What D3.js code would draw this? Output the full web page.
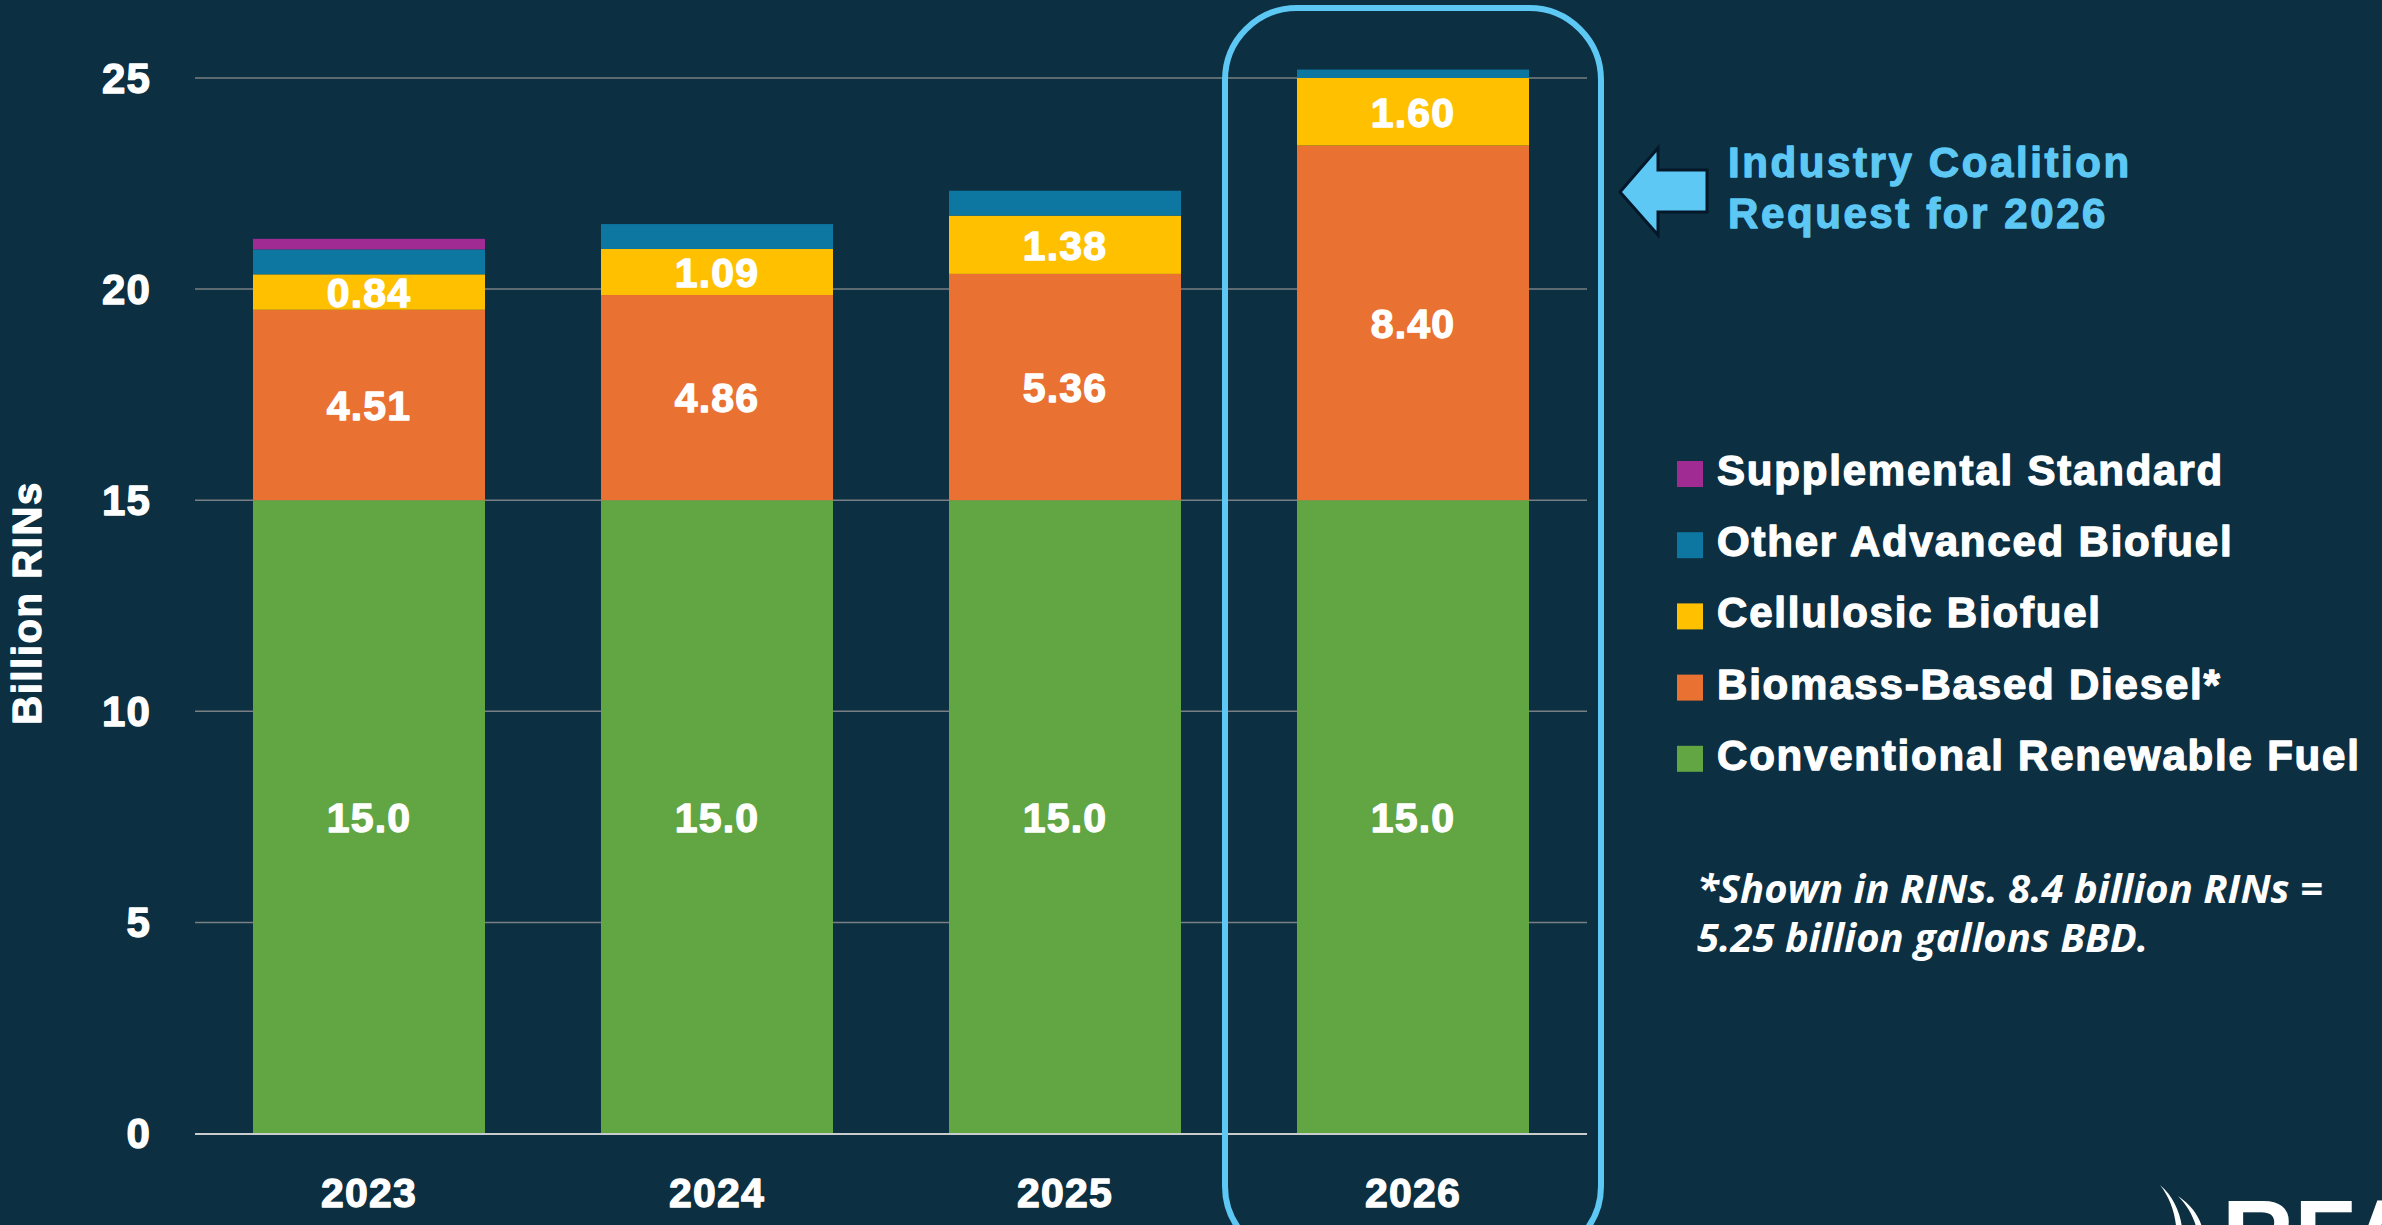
<!DOCTYPE html>
<html>
<head>
<meta charset="utf-8">
<script src="https://cdn.jsdelivr.net/npm/d3@7"></script>
<style>
  html, body { margin: 0; padding: 0; background: #0c2f42; overflow: hidden; }
  svg { display: block; }
  text { font-family: "Liberation Sans", Arial, sans-serif; font-weight: bold; fill: #fff; }
  /* The source text is a bit heavier than Liberation bold, thicken it. */
  text.heavy { stroke: #fff; stroke-width: 1.3px; paint-order: stroke; stroke-linejoin: round; }
</style>
</head>
<body>
<div id="chart"></div>
<script>
"use strict";

// Years on the x axis.
const years = ["2023", "2024", "2025", "2026"];

// Series, bottom to top of each stack (billion RINs).
const seriesNames = [
  "Conventional Renewable Fuel",
  "Biomass-Based Diesel*",
  "Cellulosic Biofuel",
  "Other Advanced Biofuel",
  "Supplemental Standard"
];
const conventional = [15.0, 15.0, 15.0, 15.0];
const biomassDiesel = [4.51, 4.86, 5.36, 8.40];
const cellulosic = [0.84, 1.09, 1.38, 1.60];
const otherAdvanced = [0.59, 0.59, 0.59, 0.20];
const supplemental = [0.25, 0, 0, 0];

// Text shown inside each segment.
const conventionalLabels = ["15.0", "15.0", "15.0", "15.0"];
const dieselLabels = ["4.51", "4.86", "5.36", "8.40"];
const cellulosicLabels = ["0.84", "1.09", "1.38", "1.60"];

const yTicks = [0, 5, 10, 15, 20, 25];
const legendOrder = [4, 3, 2, 1, 0];

const colours = ["#62a543", "#e97132", "#ffc000", "#0e77a1", "#a02b93"];

const width = 2382, height = 1225;

let svg = d3.select("#chart")
  .append("svg")
  .attr("width", width)
  .attr("height", height);

svg.append("rect")
  .attr("width", width)
  .attr("height", height)
  .attr("fill", "#0c2f42");

let x = d3.scaleBand()
  .domain(years)
  .range([195, 1587])
  .paddingInner(1 / 3)
  .paddingOuter(1 / 6);

let y = d3.scaleLinear()
  .domain([0, 25])
  .range([1133.5, 78]);

// Build the stack table from the arrays.
let table = years.map((yr, i) => ({
  year: yr,
  s0: conventional[i],
  s1: biomassDiesel[i],
  s2: cellulosic[i],
  s3: otherAdvanced[i],
  s4: supplemental[i]
}));
let keys = ["s0", "s1", "s2", "s3", "s4"];
let stacked = d3.stack().keys(keys)(table);

// Grid lines
svg.append("g")
  .selectAll("line")
  .data(yTicks.filter(t => t > 0))
  .enter()
  .append("line")
  .attr("x1", 195)
  .attr("x2", 1587)
  .attr("y1", d => y(d))
  .attr("y2", d => y(d))
  .attr("stroke", "#7a7f83")
  .attr("stroke-width", 1.5);

// Tick labels
svg.append("g")
  .selectAll("text")
  .data(yTicks)
  .enter()
  .append("text")
  .attr("class", "heavy")
  .attr("x", 151)
  .attr("y", d => y(d))
  .attr("dy", "0.35em")
  .attr("text-anchor", "end")
  .style("font-size", "42px")
  .style("letter-spacing", "1.2px")
  .text(d => d);

// Bars
let layers = svg.append("g")
  .selectAll("g")
  .data(stacked)
  .enter()
  .append("g")
  .attr("fill", (d, i) => colours[i]);

layers.selectAll("rect")
  .data(d => d)
  .enter()
  .append("rect")
  .attr("x", d => x(d.data.year))
  .attr("width", x.bandwidth())
  .attr("y", d => y(d[1]))
  .attr("height", d => y(d[0]) - y(d[1]));

// Zero axis line
svg.append("line")
  .attr("x1", 195)
  .attr("x2", 1587)
  .attr("y1", y(0) + 0.5)
  .attr("y2", y(0) + 0.5)
  .attr("stroke", "#c9cbcc")
  .attr("stroke-width", 2);

// Segment labels
let labelSets = [conventionalLabels, dieselLabels, cellulosicLabels];
labelSets.forEach((labels, li) => {
  svg.append("g")
    .selectAll("text")
    .data(stacked[li])
    .enter()
    .append("text")
    .attr("class", "heavy")
    .attr("x", d => x(d.data.year) + x.bandwidth() / 2)
    .attr("y", d => (y(d[0]) + y(d[1])) / 2)
    .attr("dy", "0.36em")
    .attr("text-anchor", "middle")
    .style("font-size", "41px")
    .style("letter-spacing", "1.2px")
    .text((d, i) => labels[i]);
});

// Year labels
svg.append("g")
  .selectAll("text")
  .data(years)
  .enter()
  .append("text")
  .attr("class", "heavy")
  .attr("x", d => x(d) + x.bandwidth() / 2)
  .attr("y", 1207)
  .attr("text-anchor", "middle")
  .style("font-size", "41px")
  .style("letter-spacing", "1.2px")
  .text(d => d);

// Y axis title
svg.append("text")
  .attr("class", "heavy")
  .attr("transform", "translate(41,603) rotate(-90)")
  .attr("text-anchor", "middle")
  .style("font-size", "40px")
  .style("letter-spacing", "1.6px")
  .text("Billion RINs");

// Highlight box round 2026
let hx = x("2026") + x.bandwidth() / 2;
svg.append("rect")
  .attr("x", hx - 188)
  .attr("y", 8)
  .attr("width", 376)
  .attr("height", 1250)
  .attr("rx", 72)
  .attr("ry", 72)
  .attr("fill", "none")
  .attr("stroke", "#5ec8f4")
  .attr("stroke-width", 6);

// Arrow pointing at the box
svg.append("path")
  .attr("d", "M1620,192 L1658,148 L1658,170 L1707,170 L1707,212 L1658,212 L1658,235 Z")
  .attr("fill", "#5ec8f4")
  .attr("stroke", "#05182a")
  .attr("stroke-width", 3)
  .attr("stroke-linejoin", "miter");

let note = svg.append("text")
  .attr("class", "heavy")
  .attr("x", 1728)
  .attr("y", 177)
  .style("font-size", "42px")
  .style("letter-spacing", "2.6px")
  .style("fill", "#5ec8f4")
  .style("stroke", "#5ec8f4");
note.append("tspan").attr("x", 1728).text("Industry Coalition");
note.append("tspan").attr("x", 1728).attr("dy", 51).text("Request for 2026");

// Legend
let legend = svg.append("g")
  .selectAll("g")
  .data(legendOrder)
  .enter()
  .append("g")
  .attr("transform", (d, i) => `translate(1677,${461 + i * 71.2})`);

legend.append("rect")
  .attr("width", 26)
  .attr("height", 26)
  .attr("fill", d => colours[d]);

legend.append("text")
  .attr("class", "heavy")
  .attr("x", 40)
  .attr("y", 24)
  .style("font-size", "42px")
  .style("letter-spacing", "1.8px")
  .text(d => seriesNames[d]);

// Footnote
let foot = svg.append("text")
  .attr("x", 1697)
  .attr("y", 903)
  .style("font-family", "'Open Sans', sans-serif")
  .style("font-style", "italic")
  .style("font-weight", 700)
  .style("font-size", "40px");
foot.append("tspan").attr("x", 1697).text("*Shown in RINs. 8.4 billion RINs =");
foot.append("tspan").attr("x", 1697).attr("dy", 49).text("5.25 billion gallons BBD.");

// Logo, cut off by the bottom edge
svg.append("path")
  .attr("d", "M2160,1185 C2178,1200 2184,1225 2182,1240 L2176,1240 C2178,1222 2172,1200 2160,1185 Z")
  .attr("fill", "#fff");
svg.append("path")
  .attr("d", "M2178,1196 C2196,1208 2204,1225 2204,1240 L2198,1240 C2198,1225 2190,1208 2178,1196 Z")
  .attr("fill", "#fff");
svg.append("text")
  .attr("x", 2222)
  .attr("y", 1270)
  .style("font-size", "100px")
  .text("RFA");
</script>
</body>
</html>
